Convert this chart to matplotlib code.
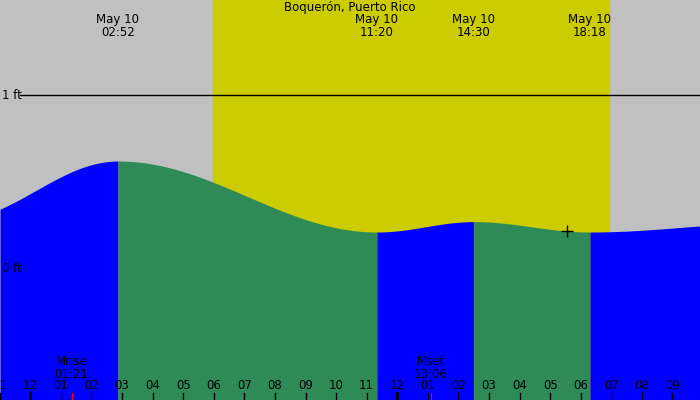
import numpy as np
import matplotlib
matplotlib.use("Agg")
import matplotlib.pyplot as plt

# extremes (hours from midnight May 10, ft)
ext_t = [-2.5, 2.867, 11.333, 14.5, 18.3, 24.0]
ext_h = [0.28, 0.62, 0.21, 0.27, 0.21, 0.26]
label_t = [2.867, 11.333, 14.5, 18.3]
label_txt = ["May 10\n02:52", "May 10\n11:20", "May 10\n14:30", "May 10\n18:18"]
sunrise, sunset = 5.98, 18.92
moon_t = [1.35, 13.1]
moon_txt = ["Mrise\n01:21", "Mset\n13:06"]
now_t, now_h = 17.55, 0.215
tick_hours = list(range(-1, 22))

x0, x1 = -0.99, 21.9
y0, y1 = -0.76, 1.55

def tide(t):
    t = np.asarray(t, float)
    out = np.zeros_like(t)
    for i in range(len(ext_t) - 1):
        a, b = ext_t[i], ext_t[i + 1]
        m = (t >= a) & (t <= b)
        f = (t[m] - a) / (b - a)
        out[m] = ext_h[i] + (ext_h[i + 1] - ext_h[i]) * (0.5 - 0.5 * np.cos(np.pi * f))
    return out

fig = plt.figure(figsize=(7, 4), dpi=100)
ax = fig.add_axes([0, 0, 1, 1])
ax.set_xlim(x0, x1); ax.set_ylim(y0, y1); ax.axis("off")
ax.axvspan(x0, x1, color="#c0c0c0", zorder=0)
ax.axvspan(sunrise, sunset, color="#cccc00", zorder=1)
ax.plot([x0 + 0.65, x1], [1, 1], color="black", lw=1, zorder=2)
ax.text(x0 + 0.08, 1, "1 ft", va="center", ha="left", fontsize=8.5, zorder=2)

for i in range(len(ext_t) - 1):
    a, b = max(ext_t[i], x0), min(ext_t[i + 1], x1)
    if a >= b:
        continue
    tt = np.linspace(a, b, 200)
    col = "#0000ff" if ext_h[i + 1] > ext_h[i] else "#2e8b57"
    ax.fill_between(tt, y0, tide(tt), color=col, lw=0, zorder=3)

ax.text(x0 + 0.08, 0, "0 ft", va="center", ha="left", fontsize=8.5, zorder=4)
ax.text(10.45, 1.505, "Boquerón, Puerto Rico", ha="center", va="center", fontsize=8.5, zorder=5)
for t, s in zip(label_t, label_txt):
    ax.text(t, 1.40, s, ha="center", va="center", fontsize=8.5, linespacing=1.05, zorder=5)
for t, s in zip(moon_t, moon_txt):
    ax.text(t, -0.574, s, ha="center", va="center", fontsize=8.5, linespacing=1.05, zorder=5)
ax.plot([now_t], [now_h], marker="+", color="black", ms=8, mew=1, zorder=6)

for h in tick_hours:
    lab = "%02d" % (h % 12 if h % 12 else 12)
    ax.text(h, -0.675, lab, ha="center", va="center", fontsize=8.5, zorder=5,
            clip_on=True)
    lw = 2 if h in (0, 12) else 1
    ax.plot([h, h], [y0, -0.718], color="black", lw=lw, zorder=5)
for t in moon_t:
    ax.plot([t, t], [y0, -0.718], color="red", lw=0.8, zorder=5)

fig.savefig("out.png", dpi=100)
